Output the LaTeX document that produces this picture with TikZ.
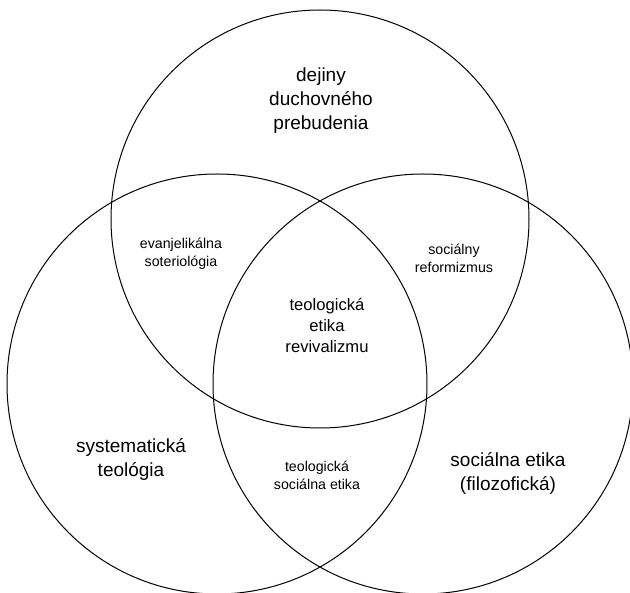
\documentclass[tikz,border=0pt]{standalone}
\usepackage{fontspec}
\setmainfont{Liberation Sans}
\tikzset{
  set/.style={draw, line width=1pt},
  bigtext/.style={align=center, inner sep=0pt, font=\fontsize{19}{24}\selectfont},
  midtext/.style={align=center, inner sep=0pt, font=\fontsize{16.6}{21}\selectfont},
  smalltext/.style={align=center, inner sep=0pt, font=\fontsize{14.2}{18}\selectfont}
}

\begin{document}
\begin{tikzpicture}[x=1pt, y=1pt]
  \useasboundingbox (0,0) rectangle (630,-593);
  \clip (0,0) rectangle (630,-593);

  % the three sets
  \draw [set] (320,-219) circle (209pt);
  \draw [set] (217,-384) circle (210pt);
  \draw [set] (423,-384) circle (210pt);

  \node [bigtext] (prebudenie) at (321,-101) {dejiny\\duchovného\\prebudenia};
  \node [bigtext] (systematicka) at (131,-459) {systematická\\teológia};
  \node [bigtext] (socetika) at (508,-473) {sociálna etika\\(filozofická)};

  \node [smalltext] (soteriologia) at (181,-254) {evanjelikálna\\soteriológia};
  \node [smalltext] (reformizmus) at (454,-258) {sociálny\\reformizmus};
  \node [smalltext] (teolsoc) at (317,-475) {teologická\\sociálna etika};

  \node [midtext] (revivalizmus) at (327,-325) {teologická\\etika\\revivalizmu};
\end{tikzpicture}
\end{document}
